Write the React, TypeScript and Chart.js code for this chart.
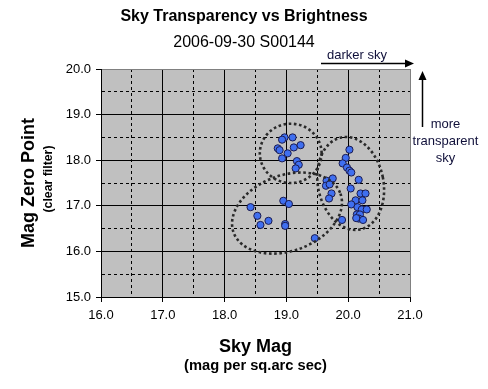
import React, { useEffect, useRef } from 'react';
import { Chart, registerables } from 'chart.js';

Chart.register(...registerables);

// ---- Data ----
const skyMag = [
  // upper-left group
  18.97, 18.93, 19.10, 18.86, 18.89, 19.12, 19.23, 19.02, 18.93, 19.17, 19.20, 19.15,
  // middle group
  19.65, 19.75, 19.64, 19.70, 19.73, 19.69,
  // right group
  20.02, 19.96, 19.91, 19.98, 20.02, 20.05, 20.17, 20.04, 20.20, 20.28, 20.12, 20.23,
  20.05, 20.15, 20.22, 20.30, 20.14, 20.19, 20.17, 20.24, 20.13, 19.90,
  // lower-left group
  18.42, 18.53, 18.71, 18.58, 18.95, 19.04, 18.98, 18.98, 19.46,
];
const zeroPoint = [
  18.50, 18.45, 18.50, 18.26, 18.22, 18.28, 18.33, 18.15, 18.04, 17.98, 17.90, 17.82,
  17.55, 17.60, 17.44, 17.47, 17.27, 17.16,
  18.23, 18.05, 17.93, 17.84, 17.77, 17.73, 17.57, 17.38, 17.27, 17.27, 17.12, 17.12,
  17.03, 16.97, 16.92, 16.92, 16.81, 16.81, 16.72, 16.69, 16.73, 16.69,
  16.97, 16.78, 16.67, 16.58, 17.11, 17.04, 16.60, 16.56, 16.29,
];

const xMin = 16, xMax = 21, yMin = 15, yMax = 20;

const titleText = 'Sky Transparency vs Brightness';
const subtitleText = '2006-09-30 S00144';
const xTitle = 'Sky Mag';
const xSubTitle = '(mag per sq.arc sec)';
const yTitle = 'Mag Zero Point';
const ySubTitle = '(clear filter)';
const noteRight = 'darker sky';
const noteUp = ['more', 'transparent', 'sky'];

// Ellipses in data units (centre x, centre y, radius in x units, radius in y units, rotation rad)
const ellipseCx = [19.07, 20.04, 19.01];
const ellipseCy = [18.15, 17.49, 16.84];
const ellipseRx = [0.50, 0.53, 0.92];
const ellipseRy = [0.65, 1.03, 0.83];
const ellipseRot = [0, -0.2, -0.35];

const FONT = "Arial, 'Liberation Sans', sans-serif";
const TEXT_DARK = '#10103a';

const isMajor = (v: number) => Math.abs(v - Math.round(v)) < 1e-6;

const decorPlugin = {
  id: 'decor',
  beforeDraw(chart: any) {
    const { ctx, chartArea: a } = chart;
    ctx.save();
    ctx.fillStyle = '#ffffff';
    ctx.fillRect(0, 0, chart.width, chart.height);
    ctx.fillStyle = '#C0C0C0';
    ctx.fillRect(a.left, a.top, a.right - a.left, a.bottom - a.top);
    ctx.restore();
  },
  afterDatasetsDraw(chart: any) {
    const { ctx } = chart;
    const xs = chart.scales.x;
    const ys = chart.scales.y;
    ctx.save();
    ctx.strokeStyle = '#2a2a2a';
    ctx.lineWidth = 2.6;
    ctx.setLineDash([2.6, 2.6]);
    for (let i = 0; i < ellipseCx.length; i++) {
      const cx = xs.getPixelForValue(ellipseCx[i]);
      const cy = ys.getPixelForValue(ellipseCy[i]);
      const rx = Math.abs(xs.getPixelForValue(ellipseCx[i] + ellipseRx[i]) - cx);
      const ry = Math.abs(ys.getPixelForValue(ellipseCy[i] + ellipseRy[i]) - cy);
      ctx.beginPath();
      ctx.ellipse(cx, cy, rx, ry, ellipseRot[i], 0, Math.PI * 2);
      ctx.stroke();
    }
    ctx.restore();
  },
  afterDraw(chart: any) {
    const { ctx, chartArea: a } = chart;
    ctx.save();
    ctx.textAlign = 'center';
    ctx.textBaseline = 'alphabetic';
    ctx.fillStyle = '#000';
    // Titles
    ctx.font = `bold 16px ${FONT}`;
    ctx.fillText(titleText, chart.width / 2, 21);
    ctx.font = `16px ${FONT}`;
    ctx.fillText(subtitleText, chart.width / 2, 46.5);
    // X axis titles
    const xc = (a.left + a.right) / 2;
    ctx.font = `bold 18px ${FONT}`;
    ctx.fillText(xTitle, xc, 351.5);
    ctx.font = `bold 14.7px ${FONT}`;
    ctx.fillText(xSubTitle, xc, 369.5);
    // Y axis titles
    const yc = (a.top + a.bottom) / 2;
    ctx.save();
    ctx.translate(33.5, yc);
    ctx.rotate(-Math.PI / 2);
    ctx.font = `bold 18px ${FONT}`;
    ctx.fillText(yTitle, 0, 0);
    ctx.restore();
    ctx.save();
    ctx.translate(51.7, yc - 4);
    ctx.rotate(-Math.PI / 2);
    ctx.font = `bold 12.3px ${FONT}`;
    ctx.fillText(ySubTitle, 0, 0);
    ctx.restore();

    // Annotations
    ctx.fillStyle = TEXT_DARK;
    ctx.font = `13px ${FONT}`;
    ctx.textAlign = 'left';
    ctx.fillText(noteRight, 327, 58.5);
    ctx.textAlign = 'center';
    const bl = [127.5, 144.5, 161.5];
    noteUp.forEach((t, i) => ctx.fillText(t, 445.5, bl[i]));

    ctx.strokeStyle = '#000';
    ctx.fillStyle = '#000';
    ctx.lineWidth = 1.5;
    ctx.setLineDash([]);
    // horizontal arrow
    ctx.beginPath();
    ctx.moveTo(321, 63.5);
    ctx.lineTo(406, 63.5);
    ctx.stroke();
    ctx.beginPath();
    ctx.moveTo(414, 63.5);
    ctx.lineTo(405, 59.5);
    ctx.lineTo(405, 67.5);
    ctx.closePath();
    ctx.fill();
    // vertical arrow
    ctx.beginPath();
    ctx.moveTo(422.5, 127);
    ctx.lineTo(422.5, 79);
    ctx.stroke();
    ctx.beginPath();
    ctx.moveTo(422.5, 71);
    ctx.lineTo(418.5, 80);
    ctx.lineTo(426.5, 80);
    ctx.closePath();
    ctx.fill();
    ctx.restore();
  },
};

export default function App() {
  const ref = useRef<HTMLCanvasElement | null>(null);

  useEffect(() => {
    if (!ref.current) return;
    const points = skyMag.map((x, i) => ({ x, y: zeroPoint[i] }));
    const gridColor = (edge: number) => (c: any) =>
      c.tick && Math.abs(c.tick.value - edge) < 1e-6 ? '#808080' : '#000000';
    const tickColor = (c: any) => (c.tick && isMajor(c.tick.value) ? '#000000' : 'rgba(0,0,0,0)');
    const dash = (c: any) => (c.tick && !isMajor(c.tick.value) ? [3, 3] : []);
    const label = (v: any) => (isMajor(Number(v)) ? Number(v).toFixed(1) : '');

    const chart = new Chart(ref.current, {
      type: 'scatter',
      data: {
        datasets: [
          {
            data: points,
            backgroundColor: '#3f6ff0',
            borderColor: '#1c1c50',
            borderWidth: 1,
            pointRadius: 3.6,
            pointHoverRadius: 3.6,
            pointStyle: 'circle',
          },
        ],
      },
      options: {
        responsive: false,
        animation: false,
        events: [],
        layout: { padding: { top: 69, right: 78, left: 0, bottom: 0 } },
        plugins: {
          legend: { display: false },
          tooltip: { enabled: false },
          title: { display: false },
        },
        scales: {
          x: {
            type: 'linear',
            min: xMin,
            max: xMax,
            afterFit: (s: any) => { s.height = 92; },
            ticks: {
              stepSize: 0.5,
              autoSkip: false,
              maxRotation: 0,
              callback: label,
              font: { family: FONT, size: 13 },
              color: '#000',
              padding: 6,
            },
            grid: {
              color: gridColor(xMax),
              lineWidth: 1,
              tickLength: 5,
              tickColor,
              tickWidth: 1,
            },
            border: { display: true, color: '#000', width: 1, dash },
          },
          y: {
            type: 'linear',
            min: yMin,
            max: yMax,
            afterFit: (s: any) => { s.width = 101; },
            ticks: {
              stepSize: 0.5,
              autoSkip: false,
              callback: label,
              font: { family: FONT, size: 13 },
              color: '#000',
              padding: 5,
            },
            grid: {
              color: gridColor(yMax),
              lineWidth: 1,
              tickLength: 5,
              tickColor,
              tickWidth: 1,
            },
            border: { display: true, color: '#000', width: 1, dash },
          },
        },
      },
      plugins: [decorPlugin],
    } as any);
    return () => chart.destroy();
  }, []);

  return (
    <div style={{ position: 'absolute', left: 0, top: 0, width: 488, height: 389 }}>
      <canvas ref={ref} width={488} height={389} style={{ display: 'block' }} />
    </div>
  );
}
